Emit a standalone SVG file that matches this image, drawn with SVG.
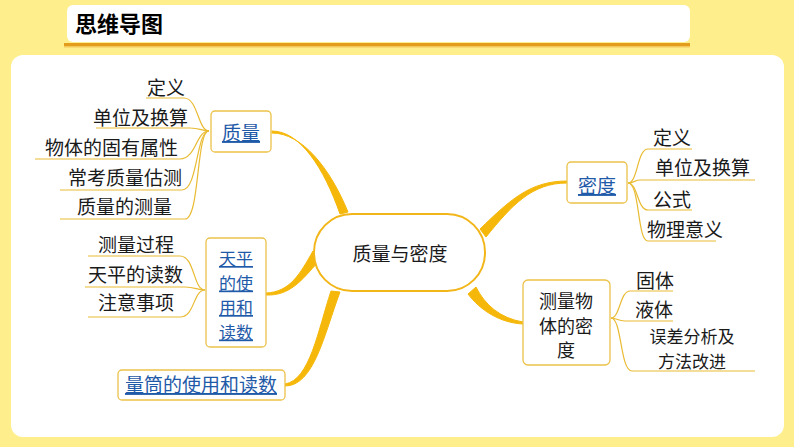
<svg xmlns="http://www.w3.org/2000/svg" width="794" height="447" viewBox="0 0 794 447">
<style>
text{font-family:"Noto Sans CJK SC","Noto Sans",sans-serif;fill:#1a1a1a;font-size:19px}
.ml{font-size:17px}
.link{fill:#1f5aa8;text-decoration:underline}
.box{fill:#fff;stroke:#ecc24a;stroke-width:1.3}
.leaf{fill:none;stroke:#e9bb33;stroke-width:1.2}
.main{fill:#f5b80a;stroke:#f5b80a;stroke-width:1}
.e{text-anchor:end}
.m{text-anchor:middle}
</style>
<rect x="0" y="0" width="794" height="447" fill="#feee8c"/>
<g id="title">
<rect x="67" y="5" width="623" height="37" rx="6" fill="#fff"/>
<rect x="64" y="43" width="626" height="3" fill="#e39c1c"/>
<rect x="64" y="46" width="626" height="1.5" fill="#f3c75a"/>
<text x="75" y="32" style="font-size:22px;font-weight:bold;fill:#000">思维导图</text>
</g>
<rect x="11" y="55" width="773" height="382" rx="12" fill="#fff"/>
<g id="connectors">
<path class="main" d="M272,131 C300,131 324,168 340,214 L348,212 C330,168 302,133 272,133 Z"/>
<path class="main" d="M266,293 C290,292 300,274 313,251 L318,262 C302,280 290,296 266,295 Z"/>
<path class="main" d="M285,384 C310,380 318,330 331,291 L340,292 C324,335 314,386 285,386 Z"/>
<path class="main" d="M567,181 C530,181 510,200 480,229 L486,237 C512,205 532,183 567,183 Z"/>
<path class="main" d="M523,322 C500,318 485,305 476,287 L468,294 C480,310 500,323 523,324 Z"/>
<path class="leaf" d="M146,98 H184 C198,98 198,131 209,131"/>
<path class="leaf" d="M96,128 H190 C200,128 202,131 209,131"/>
<path class="leaf" d="M35,159 H180 C196,159 196,131 209,131"/>
<path class="leaf" d="M60,190 H182 C198,190 196,131 209,131"/>
<path class="leaf" d="M60,219 H185 C200,219 196,131 209,131"/>
<path class="leaf" d="M88,256 H180 C195,256 193,290 205,290"/>
<path class="leaf" d="M85,287 H185 C195,287 197,290 205,290"/>
<path class="leaf" d="M88,317 H180 C195,317 193,290 205,290"/>
<path class="leaf" d="M692,149 H648 C637,149 638,183 628,183"/>
<path class="leaf" d="M755,180 H640 C635,180 634,183 628,183"/>
<path class="leaf" d="M692,210 H648 C637,210 638,183 628,183"/>
<path class="leaf" d="M716,241 H648 C637,241 640,183 628,183"/>
<path class="leaf" d="M673,291 H630 C620,291 620,318 611,318"/>
<path class="leaf" d="M673,321 H625 C618,321 616,318 611,318"/>
<path class="leaf" d="M755,371 H632 C620,371 622,318 611,318"/>
</g>
<g id="center">
<rect x="314" y="214" width="171" height="77" rx="38" fill="#fff" stroke="#f2b619" stroke-width="2"/>
<text x="400" y="261" class="m">质量与密度</text>
</g>
<g id="n-zl">
<rect class="box" x="211" y="111" width="60" height="41" rx="4"/>
<text x="241" y="140" class="m link">质量</text>
</g>
<g id="n-tp">
<rect class="box" x="206" y="238" width="60" height="109" rx="4"/>
<text class="m link ml"><tspan x="236" y="265">天平</tspan><tspan x="236" y="289.5">的使</tspan><tspan x="236" y="314">用和</tspan><tspan x="236" y="338.5">读数</tspan></text>
</g>
<g id="n-lt">
<rect class="box" x="118" y="370" width="167" height="30" rx="4"/>
<text x="201" y="392" class="m link">量筒的使用和读数</text>
</g>
<g id="n-md">
<rect class="box" x="567" y="162" width="60" height="41" rx="4"/>
<text x="597" y="193" class="m link">密度</text>
</g>
<g id="n-cl">
<rect class="box" x="523" y="280" width="87" height="85" rx="5"/>
<text class="m ml" style="font-size:18px"><tspan x="566" y="308">测量物</tspan><tspan x="566" y="333">体的密</tspan><tspan x="566" y="357">度</tspan></text>
</g>
<g id="leaves-zl">
<text x="185" y="95" class="e">定义</text>
<text x="188" y="125" class="e">单位及换算</text>
<text x="178" y="155" class="e">物体的固有属性</text>
<text x="182" y="185" class="e">常考质量估测</text>
<text x="172" y="214" class="e">质量的测量</text>
</g>
<g id="leaves-tp">
<text x="174" y="252" class="e">测量过程</text>
<text x="183" y="282" class="e">天平的读数</text>
<text x="174" y="310" class="e">注意事项</text>
</g>
<g id="leaves-md">
<text x="653" y="145">定义</text>
<text x="655" y="175">单位及换算</text>
<text x="653" y="207">公式</text>
<text x="647" y="237">物理意义</text>
</g>
<g id="leaves-cl">
<text x="636" y="288">固体</text>
<text x="635" y="317">液体</text>
<text class="m ml"><tspan x="692" y="343">误差分析及</tspan><tspan x="692" y="368">方法改进</tspan></text>
</g>
</svg>
